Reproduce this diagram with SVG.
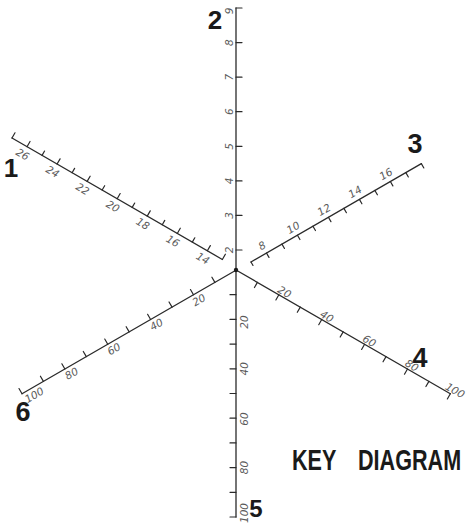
<svg xmlns="http://www.w3.org/2000/svg" width="466" height="528" viewBox="0 0 466 528">
<style>
.ax{stroke:#2a2a2a;stroke-width:1.3;fill:none;stroke-linecap:round}
.tk{stroke:#2a2a2a;stroke-width:1.2;fill:none;stroke-linecap:round}
.sc{font-family:"DejaVu Sans",sans-serif;font-style:italic;font-size:10.5px;fill:#5a5a5a;text-anchor:middle}
.num{font-family:"Liberation Sans",Arial,sans-serif;font-weight:bold;fill:#1a1a1a;text-anchor:middle}
.title{font-family:"Liberation Sans",Arial,sans-serif;font-weight:bold;font-size:30px;fill:#1a1a1a}
</style>
<rect width="466" height="528" fill="#ffffff"/>

<!-- Axis 2 (upper vertical) -->
<g id="axis2">
<path class="ax" d="M236 8 V270"/>
<path class="tk" d="M236 8 H242 M236 42.6 H242 M236 77.2 H242 M236 111.7 H242 M236 146.3 H242 M236 180.9 H242 M236 215.4 H242 M236 250 H242"/>
<g class="sc">
<text transform="translate(233,11) rotate(-90)">9</text>
<text transform="translate(233,42.6) rotate(-90)">8</text>
<text transform="translate(233,77.2) rotate(-90)">7</text>
<text transform="translate(233,111.7) rotate(-90)">6</text>
<text transform="translate(233,146.3) rotate(-90)">5</text>
<text transform="translate(233,180.9) rotate(-90)">4</text>
<text transform="translate(233,215.4) rotate(-90)">3</text>
<text transform="translate(233,250) rotate(-90)">2</text>
</g>
<text class="num" x="215" y="29" font-size="26">2</text>
</g>

<!-- Axis 5 (lower vertical) -->
<g id="axis5">
<path class="ax" d="M236 270 V517"/>
<path class="tk" d="M230 294.7 H236 M230 319.4 H236 M230 344.1 H236 M230 368.8 H236 M230 393.5 H236 M230 418.2 H236 M230 442.9 H236 M230 467.6 H236 M230 492.3 H236 M230 517 H236"/>
<g class="sc">
<text transform="translate(248,322) rotate(-90)">20</text>
<text transform="translate(248,368.8) rotate(-90)">40</text>
<text transform="translate(248,419) rotate(-90)">60</text>
<text transform="translate(248,467.6) rotate(-90)">80</text>
<text transform="translate(248,513) rotate(-90)">100</text>
</g>
<text class="num" x="256" y="517" font-size="24">5</text>
</g>

<!-- Axis 1 (upper left) -->
<g id="axis1">
<g transform="translate(12,138) rotate(30)">
<path class="ax" d="M0 0 H242.9"/>
<path class="tk" d="M0 0 V-6 M17.35 0 V-6 M34.7 0 V-5 M52.05 0 V-6 M69.4 0 V-5 M86.75 0 V-6 M104.1 0 V-5 M121.45 0 V-6 M138.8 0 V-5 M156.15 0 V-6 M173.5 0 V-5 M190.85 0 V-6 M208.2 0 V-5 M225.55 0 V-6 M242.9 0 V-6"/>
<g class="sc">
<text x="17.35" y="12.5">26</text>
<text x="52.05" y="12.5">24</text>
<text x="86.75" y="12.5">22</text>
<text x="121.45" y="12.5">20</text>
<text x="156.15" y="12.5">18</text>
<text x="190.85" y="12.5">16</text>
<text x="225.55" y="12.5">14</text>
</g>
</g>
<text class="num" x="11" y="177" font-size="26">1</text>
</g>

<!-- Axis 3 (upper right) -->
<g id="axis3">
<g transform="translate(251,262) rotate(-30)">
<path class="ax" d="M0 0 H196.7"/>
<path class="tk" d="M0 0 V4 M17.88 0 V5 M35.76 0 V5 M53.64 0 V5 M71.52 0 V5 M89.4 0 V5 M107.28 0 V5 M125.16 0 V5 M143.04 0 V5 M160.92 0 V5 M178.8 0 V5 M196.7 0 V5"/>
<g class="sc">
<text x="17.88" y="-5">8</text>
<text x="53.64" y="-5">10</text>
<text x="89.4" y="-5">12</text>
<text x="125.16" y="-5">14</text>
<text x="160.92" y="-5">16</text>
</g>
</g>
<text class="num" x="415" y="153" font-size="27">3</text>
</g>

<!-- Axis 4 (lower right) -->
<g id="axis4">
<g transform="translate(236,270) rotate(30)">
<path class="ax" d="M0 0 H247.5"/>
<path class="tk" d="M24.75 0 V6 M49.5 0 V6 M74.25 0 V6 M99 0 V6 M123.75 0 V6 M148.5 0 V6 M173.25 0 V6 M198 0 V6 M222.75 0 V6 M247.5 0 V6"/>
<g class="sc">
<text x="53" y="-1.5">20</text>
<text x="102" y="-1.5">40</text>
<text x="151" y="-1.5">60</text>
<text x="200" y="-1.5">80</text>
<text x="250" y="-1.5">100</text>
</g>
</g>
<text class="num" x="420" y="367" font-size="27">4</text>
</g>

<!-- Axis 6 (lower left) -->
<g id="axis6">
<g transform="translate(22,393.75) rotate(-30)">
<path class="ax" d="M0 0 H247.5"/>
<path class="tk" d="M0 0 V-6 M24.75 0 V-6 M49.5 0 V-6 M74.25 0 V-6 M99 0 V-6 M123.75 0 V-6 M148.5 0 V-6 M173.25 0 V-6 M198 0 V-6 M222.75 0 V-6"/>
<g class="sc">
<text x="10" y="11">100</text>
<text x="53" y="11">80</text>
<text x="102" y="11">60</text>
<text x="151" y="11">40</text>
<text x="200" y="11">20</text>
</g>
</g>
<text class="num" x="23" y="421" font-size="27">6</text>
</g>

<g id="centre">
<circle cx="236" cy="270" r="2.2" fill="#1a1a1a"/>
</g>

<g id="title">
<text class="title" transform="translate(292,470) scale(0.72,1)"><tspan x="0">KEY</tspan> <tspan x="91.7">DIAGRAM</tspan></text>
</g>
</svg>
